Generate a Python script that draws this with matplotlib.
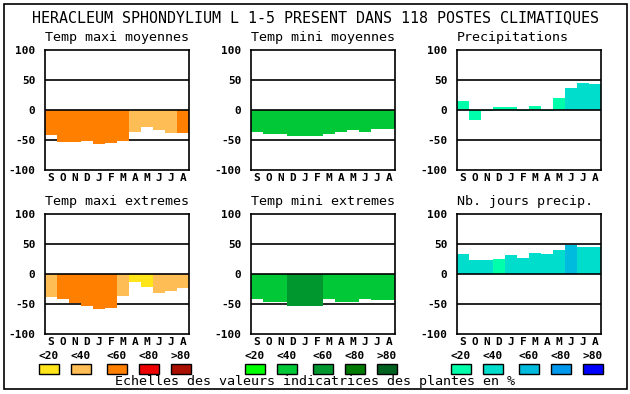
import matplotlib
matplotlib.use('Agg')
import matplotlib.pyplot as plt
from matplotlib.patches import Rectangle

plt.rcParams['font.family'] = ['DejaVu Sans Mono']

months = ['S', 'O', 'N', 'D', 'J', 'F', 'M', 'A', 'M', 'J', 'J', 'A']
classes = ['<20', '<40', '<60', '<80', '>80']

# palettes (one per scale)
oranges = ['#ffe51a', '#ffbd55', '#ff8000', '#ee0000', '#aa1000']
greens = ['#00ff00', '#00c837', '#00982e', '#007a00', '#006020']
blues = ['#00ffaa', '#00ddcc', '#00bbdd', '#0099ee', '#0000ff']

# valeurs, classe = indice dans la palette
tmax_moy = [-42, -54, -54, -52, -57, -55, -52, -36, -28, -34, -38, -38]
tmax_moy_cls = [2, 2, 2, 2, 2, 2, 2, 1, 1, 1, 1, 2]
tmin_moy = [-36, -40, -40, -44, -44, -44, -40, -37, -34, -36, -32, -32]
tmin_moy_cls = [1] * 12
precip = [15, -16, -2, 5, 5, -2, 7, -2, 20, 37, 45, 44]
precip_cls = [0, 0, 0, 0, 0, 0, 0, 0, 0, 1, 1, 1]
tmax_ext = [-38, -41, -48, -54, -58, -56, -36, -13, -21, -31, -28, -24]
tmax_ext_cls = [1, 2, 2, 2, 2, 2, 1, 0, 0, 1, 1, 1]
tmin_ext = [-41, -46, -46, -53, -54, -53, -41, -46, -46, -41, -44, -44]
tmin_ext_cls = [1, 1, 1, 2, 2, 2, 1, 1, 1, 1, 1, 1]
nb_jours = [33, 23, 23, 25, 32, 27, 35, 33, 40, 48, 45, 45]
nb_jours_cls = [1, 1, 1, 0, 1, 1, 1, 1, 1, 2, 1, 1]

panels = [
    ('Temp maxi moyennes', tmax_moy, tmax_moy_cls, oranges),
    ('Temp mini moyennes', tmin_moy, tmin_moy_cls, greens),
    ('Precipitations', precip, precip_cls, blues),
    ('Temp maxi extremes', tmax_ext, tmax_ext_cls, oranges),
    ('Temp mini extremes', tmin_ext, tmin_ext_cls, greens),
    ('Nb. jours precip.', nb_jours, nb_jours_cls, blues),
]

W, H = 630, 394
fig = plt.figure(figsize=(W / 100, H / 100), dpi=100)

def fx(px):
    return px / W

def fy(py):
    return 1 - py / H

# cadre general
fig.patches.append(Rectangle((fx(4), fy(389)), fx(623), 385 / H, transform=fig.transFigure,
                             fill=False, edgecolor='black', linewidth=1.2))

fig.text(0.5, fy(18), 'HERACLEUM SPHONDYLIUM L 1-5 PRESENT DANS 118 POSTES CLIMATIQUES',
         ha='center', va='center', fontsize=10.8)

col_x = [45, 251, 457]
row_y = [50, 214]
for i, (title, vals, cls, pal) in enumerate(panels):
    x0 = col_x[i % 3]
    y0 = row_y[i // 3]
    ax = fig.add_axes([fx(x0), fy(y0 + 120), fx(144), 120 / H])
    ax.bar(range(12), vals, width=1.0, color=[pal[c] for c in cls], linewidth=0, zorder=2)
    for g in (50, -50):
        ax.axhline(g, color='black', linewidth=1.2, zorder=1)
    ax.axhline(0, color='black', linewidth=1.2, zorder=3)
    ax.set_xlim(-0.5, 11.5)
    ax.set_ylim(-100, 100)
    ax.set_yticks([100, 50, 0, -50, -100])
    ax.set_yticklabels(['100', '50', '0', '-50', '-100'], fontsize=8, fontweight='bold')
    ax.set_xticks(range(12))
    ax.set_xticklabels(months, fontsize=8, fontweight='bold')
    ax.tick_params(length=0, pad=7)
    ax.tick_params(axis='x', pad=2)
    for s in ax.spines.values():
        s.set_linewidth(1.2)
        s.set_zorder(4)
    fig.text(fx(x0), fy(y0 - 12), title, ha='left', va='center', fontsize=9.6)

# legende
box_x = [[39, 71, 107, 139, 171], [245, 277, 313, 345, 377], [451, 483, 519, 551, 583]]
for pal, xs in zip([oranges, greens, blues], box_x):
    for c, lab, bx in zip(pal, classes, xs):
        fig.patches.append(Rectangle((fx(bx), fy(374)), fx(20), 10 / H, transform=fig.transFigure,
                                     facecolor=c, edgecolor='black', linewidth=1))
        fig.text(fx(bx + 10), fy(356), lab, ha='center', va='center', fontsize=8, fontweight='bold')

fig.text(0.5, fy(382), 'Echelles des valeurs indicatrices des plantes en %',
         ha='center', va='center', fontsize=9.6)

fig.savefig('out.png', dpi=100)
